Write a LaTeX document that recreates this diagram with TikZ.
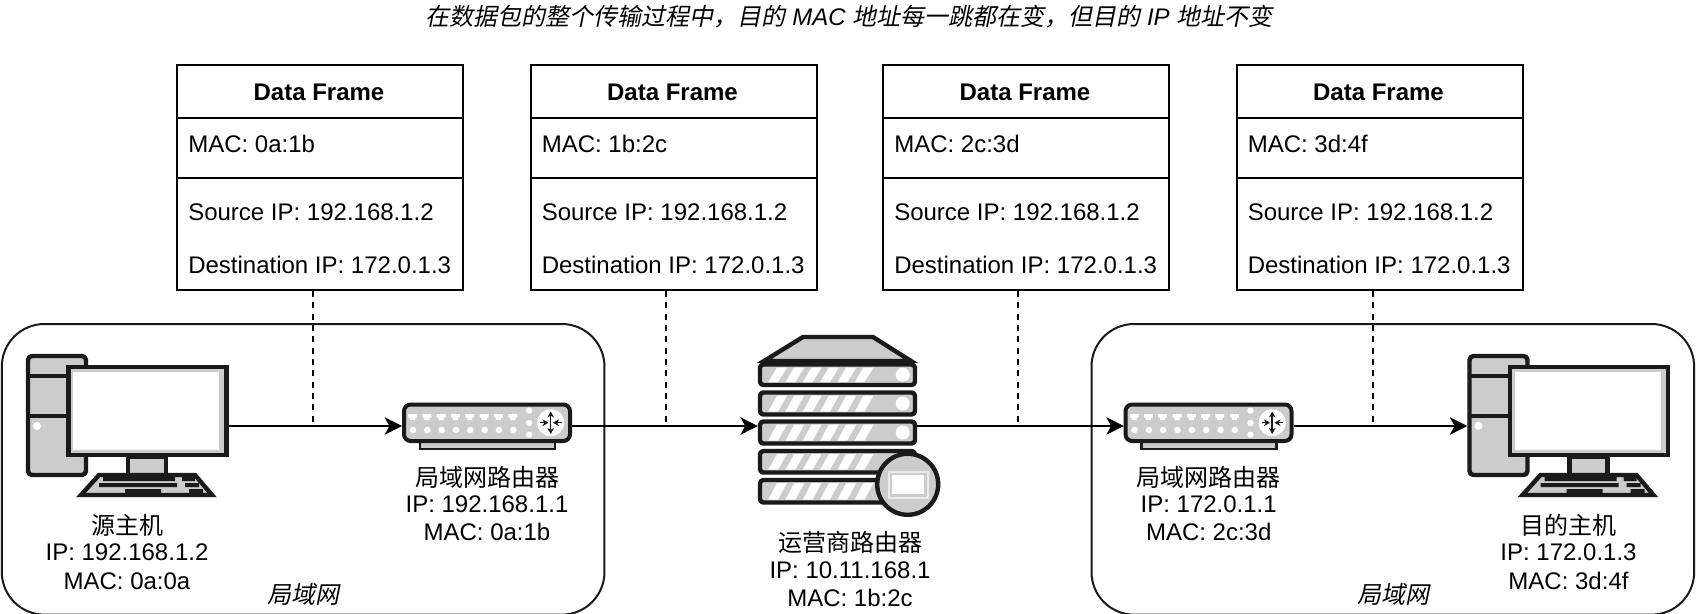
\documentclass[tikz,border=0pt]{standalone}
\usepackage{fontspec}
\setmainfont{Liberation Sans}
\newfontfamily\zh{Noto Sans CJK SC}
\newfontfamily\zhi[FakeSlant=0.2]{Noto Sans CJK SC}
\usetikzlibrary{arrows.meta}
\definecolor{ink}{HTML}{1A1A1A}
\definecolor{fillgray}{HTML}{CCCCCC}
\tikzset{
  x=0.75pt,y=-0.75pt,
  lab/.style={anchor=base,inner sep=0,font=\fontsize{18}{22}\selectfont,text=black},
  labl/.style={lab,anchor=base west},
  labb/.style={lab,font=\fontsize{18}{22}\selectfont\bfseries},
  framehead/.style={draw=black,line width=1.5pt,anchor=north west,inner sep=0,minimum width=214.5pt,minimum height=39.6pt},
  framemac/.style={framehead,minimum height=45pt},
  frameip/.style={framehead,minimum height=84.2pt},
  lan/.style={draw=ink,line width=1.5pt,rounded corners=32pt,anchor=north west,inner sep=0,minimum height=218pt,minimum width=452pt},
  iconbox/.style={inner sep=0,anchor=center},
  conn/.style={draw=black,line width=1.5pt,-{Stealth[length=13pt,width=13pt,inset=3.5pt]}},
  dashline/.style={draw=black,line width=1.5pt,dash pattern=on 4.5pt off 4pt},
  ic/.style={draw=ink,fill=fillgray,line width=3.3pt,line join=round},
  thin ic/.style={draw=ink,fill=fillgray,line width=1.8pt},
  key/.style={fill=ink,draw=none},
  wht/.style={fill=white,draw=none},
}
% PC icon, drawn at the left position; #1 = x shift
\newcommand{\pcicon}[1]{%
\begin{scope}[xshift=#1*0.75pt]
  \draw[ic,rounded corners=3pt] (28,356) rectangle (86,475);
  \draw[ink,line width=3pt] (28,375.7) -- (69,375.7) (28,416) -- (69,416);
  \fill[white] (37,426) circle[radius=4];
  \draw[ic] (128,457) rectangle (166,475);
  \draw[ic,line join=miter] (99,475) -- (195,475) -- (212,495) -- (81,495) -- cycle;
  \draw[ic,line join=miter] (68.5,367) rectangle (226.5,455);
  \fill[white] (73,372) rectangle (219,450);
  \fill[key] (103,477) rectangle (175,481) (182,477) rectangle (195,481)
             (99,483) rectangle (177,487) (185,483) rectangle (199,487)
             (125,489) rectangle (161,493) (189,489) rectangle (203,493);
\end{scope}}
% router icon; #1 = x shift
\newcommand{\routericon}[1]{%
\begin{scope}[xshift=#1*0.75pt]
  \draw[thin ic] (420,440) rectangle (555,449);
  \draw[ic,rounded corners=5pt,line width=3pt] (404,404.5) rectangle (570,441);
  \foreach \i in {0,...,7}{
    \fill[white] ({408+14.33*\i},414) -- ++(9,0) -- ++(0,3.5) -- ++(-2,0) -- ++(0,2.5) -- ++(-5,0) -- ++(0,-2.5) -- ++(-2,0) -- cycle;
    \fill[white] ({413+14.33*\i},430) circle[radius=3.3];
  }
  \fill[white] (529,410.7) circle[radius=3.2] (529,423) circle[radius=3.2] (529,434.7) circle[radius=3.2];
  \fill[white] (550.7,422.7) circle[radius=13.5];
  \begin{scope}[ink,line width=1.1pt,>={Stealth[length=4.5pt,width=5pt]}]
    \draw[<->] (550.7,411.5) -- (550.7,434);
    \draw[->] (540,422.7) -- (548.5,422.7);
    \draw[->] (561.5,422.7) -- (553,422.7);
  \end{scope}
\end{scope}}
% server unit: #1 top, #2 bottom
\newcommand{\srvunit}[2]{%
  \draw[ic,rounded corners=2.5pt] (760,#1) rectangle (915,#2);
  \foreach \i in {0,...,5}{
    \fill[white] ({768.3+17.3*\i},#2-3) -- ({778+17.3*\i},#2-3) -- ({787+17.3*\i},#1+3) -- ({777+17.3*\i},#1+3) -- cycle;
  }}
% data frame: #1 name, #2 left x, #3 MAC text
\newcommand{\dataframe}[3]{%
  \node[framehead] (#1h) at (#2,64) {};
  \node[framemac] (#1m) at (#2,116.7) {};
  \node[frameip] (#1i) at (#2,176.7) {};
  \node[labb] (#1t) at (#2+143,100) {Data Frame};
  \node[labl] (#1a) at (#2+12,152.5) {MAC: #3};
  \node[labl] (#1s) at (#2+12,220.5) {Source IP: 192.168.1.2};
  \node[labl] (#1d) at (#2+12,273.5) {Destination IP: 172.0.1.3};}
\begin{document}
\begin{tikzpicture}
\useasboundingbox (0,0) rectangle (1696,614);

\node[lan] (lan1) at (0.8,323) {};
\node[lan] (lan2) at (1090.5,323) {};

\node[iconbox,minimum width=151.5pt,minimum height=106.5pt] (pc1) at (127,426) {};
\node[iconbox,minimum width=127pt,minimum height=35pt] (r1) at (487,426) {};
\node[iconbox,minimum width=119pt,minimum height=135pt] (srv) at (837.5,426) {};
\node[iconbox,minimum width=127pt,minimum height=35pt] (r2) at (1208.7,426) {};
\node[iconbox,minimum width=151.5pt,minimum height=106.5pt] (pc2) at (1568.5,426) {};

\coordinate (d1) at (312.5,426);
\coordinate (d2) at (666,426);
\coordinate (d3) at (1018,426);
\coordinate (d4) at (1372.5,426);

\draw[conn] (pc1.east) -- (r1.west);
\draw[conn] (r1.east) -- (srv.west);
\draw[conn] (srv.east) -- (r2.west);
\draw[conn] (r2.east) -- (pc2.west);

\dataframe{f1}{176}{0a:1b}
\dataframe{f2}{529.5}{1b:2c}
\dataframe{f3}{882}{2c:3d}
\dataframe{f4}{1235.5}{3d:4f}

\draw[dashline] (f1i.south -| d1) -- (d1);
\draw[dashline] (f2i.south -| d2) -- (d2);
\draw[dashline] (f3i.south -| d3) -- (d3);
\draw[dashline] (f4i.south -| d4) -- (d4);

\pcicon{0}
\pcicon{1441.5}
\routericon{0}
\routericon{721.5}

% server
\draw[ic,line join=miter] (803,337) -- (873,337) -- (911,361) -- (764,361) -- cycle;
\srvunit{364.5}{385}
\srvunit{392.5}{414.5}
\srvunit{421.5}{443.5}
\srvunit{451}{472.5}
\srvunit{480}{502.5}
\fill[white] (902.7,374.7) circle[radius=7] (902.7,403.5) circle[radius=7] (902.7,432.5) circle[radius=7];
\draw[ic] (907.7,484.3) circle[radius=30.5];
\fill[white!92!black] (888,471) rectangle (928.5,498.5);
\draw[draw=fillgray,fill=white,line width=1.8pt] (891,474) rectangle (925.5,495.5);

% texts
\node[lab,font=\fontsize{18}{22}\selectfont] (title) at (849,26) {{\zhi 在数据包的整个传输过程中，目的} \textit{MAC} {\zhi 地址每一跳都在变，但目的} \textit{IP} {\zhi 地址不变}};

\node[lab] (a1) at (127,534) {\zh 源主机};
\node[lab] (a2) at (127,560) {IP: 192.168.1.2};
\node[lab] (a3) at (127,589.5) {MAC: 0a:0a};

\node[lab] (b1) at (487,486) {\zh 局域网路由器};
\node[lab] (b2) at (487,512.5) {IP: 192.168.1.1};
\node[lab] (b3) at (487,540) {MAC: 0a:1b};

\node[lab] (c1) at (850,551) {\zh 运营商路由器};
\node[lab] (c2) at (850,578.5) {IP: 10.11.168.1};
\node[lab] (c3) at (850,606) {MAC: 1b:2c};

\node[lab] (e1) at (1208.7,486) {\zh 局域网路由器};
\node[lab] (e2) at (1208.7,512.5) {IP: 172.0.1.1};
\node[lab] (e3) at (1208.7,540) {MAC: 2c:3d};

\node[lab] (g1) at (1568.5,534) {\zh 目的主机};
\node[lab] (g2) at (1568.5,560) {IP: 172.0.1.3};
\node[lab] (g3) at (1568.5,589.5) {MAC: 3d:4f};

\node[lab] (l1) at (303,603) {\zhi 局域网};
\node[lab] (l2) at (1393,603) {\zhi 局域网};
\end{tikzpicture}
\end{document}
